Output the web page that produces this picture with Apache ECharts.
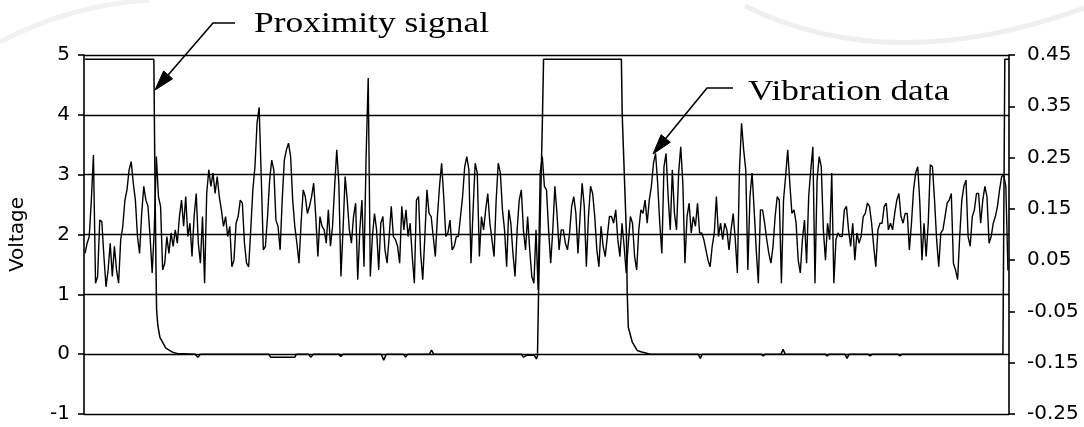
<!DOCTYPE html>
<html><head><meta charset="utf-8">
<script src="https://cdn.jsdelivr.net/npm/echarts@6/dist/echarts.min.js"></script>
<style>html,body{margin:0;padding:0;background:#fff}#c{width:1084px;height:427px}</style>
</head><body><div id="c"></div>
<script>
// Left axis (Voltage) range and right axis (vibration) range
const leftAxis = { min: -1, max: 5, interval: 1 };
const rightAxis = { min: -0.25, max: 0.45, interval: 0.1 };

// Vibration data (right axis units), consecutive samples, split into segments
const vibA = [0.063,0.083,0.096,0.167,0.255,0.005,0.018,0.128,0.125,0.057,
-0.002,0.031,0.083,0.018,0.077,0.031,0.005,0.090,0.116,0.167,
0.187,0.226,0.242,0.200,0.167,0.096,0.063,0.141,0.194,0.167,
0.155,0.096,0.025,0.109,0.252,0.174,0.155,0.031,0.044,0.096,
0.063,0.103,0.077,0.109,0.083,0.135,0.167,0.116,0.174,0.096,
0.122,0.057,0.135,0.180,0.083,0.044,0.135,0.005,0.180,0.226,
0.194,0.220,0.180,0.213,0.174,0.148,0.116,0.135,0.096,0.116,
0.037,0.050,0.122,0.135,0.167];
const vibB = [0.161,0.083,0.044,0.037,0.109,0.187,0.232,0.317,
0.348,0.213,0.070,0.077,0.135,0.206,0.245,0.226,0.128,
0.116,0.070,0.167,0.245,0.265,0.278,0.252,0.167,0.116,
0.083,0.044,0.122,0.187,0.174,0.141,0.155,0.174,0.200,0.135,
0.057,0.135,0.116,0.109,0.083,0.148,
0.077,0.116,0.194,0.265,0.200,0.018,0.109,0.213,0.167,0.109,
0.083,0.135,0.161,0.012,0.109,0.167,0.037,0.252,
0.405,0.018,0.096,0.141,0.109,0.031,0.122,0.135,
0.070,0.044,0.096,0.155,0.096];
const vibC = [0.090,0.077,0.044,0.155,0.109,0.148,0.096,0.122,0.057,
0.005,0.167,0.174,0.063,0.012,0.096,0.187,0.141,0.135,0.096,
0.057,0.135,0.194,0.239,0.174,0.096,0.103,0.128,0.070,
0.077,0.096,0.096,0.135,0.174,0.232,0.252,0.226,
0.044,0.148,0.239,0.220,0.057,0.135,0.109,0.148,0.180,
0.122,0.090,0.057,0.167,0.239,0.220,0.148,0.109,0.037,
0.148,0.122,0.063,0.018,0.109,0.167,0.187,0.109,0.070,
0.135,0.070,0.018,0.005,0.109,-0.008,0.220,
0.252,0.194,0.187,0.109,0.044];
const vibD = [0.109,0.194,0.141,0.070,0.109,0.109,0.083,0.070,0.103,0.155,
0.174,0.141,0.063,0.135,0.200,0.155,0.037,0.135,0.194,0.180,
0.135,0.070,0.037,0.116,0.077,0.057,0.096,0.135,0.135,0.122,
0.148,0.090,0.057,0.122,0.077,0.025,0.083,0.135,0.122,0.057,
0.031,0.109,0.148,0.141,0.167,0.122,0.167,0.194,0.239,0.258,
0.200,0.122,0.063,0.232,0.258,0.174,0.109,0.226,0.141,0.109,
0.220,0.271,0.200,0.044,0.135,0.161,0.103,0.135,0.116,0.161,
0.103,0.103,0.090,0.070,0.050];
const vibE = [0.037,0.077,0.103,0.174,0.096,0.122,0.090,0.122,0.109,0.070,
0.109,0.141,0.090,0.025,0.226,0.317,0.265,0.226,0.031,0.174,
0.220,0.148,0.070,0.005,0.148,0.148,0.122,0.090,0.063,0.044,
0.077,0.135,0.174,0.167,0.005,0.167,0.213,0.265,0.200,0.141,
0.148,0.122,0.050,0.025,0.090,0.128,0.044,0.174,0.226,0.271,
0.005,0.206,0.252,0.232,0.109,0.050,0.122,0.090,0.220,0.005,
0.090,0.103,0.096,0.096,0.148,0.155,0.109,0.077,0.122,0.050,
0.103,0.083,0.096,0.135,0.141];
const vibF = [0.161,0.155,0.122,0.077,0.037,0.109,0.122,0.122,0.155,0.161,
0.109,0.122,0.109,0.141,0.167,0.180,0.135,0.122,0.141,0.141,
0.070,0.122,0.187,0.220,0.232,0.161,0.050,0.122,0.057,0.122,
0.236,0.232,0.167,0.090,0.037,0.103,0.109,0.135,0.161,0.167,
0.180,0.044,0.031,0.012,0.096,0.167,0.194,0.206,0.096,0.077,
0.135,0.148,0.180,0.180,0.122,0.167,0.194,0.174,0.083,0.096,
0.122,0.135,0.155,0.187,0.213,0.216,0.194,0.030];

// Proximity signal (left axis, volts) at sample positions
const proxX = [0,32.8,33.3,33.8,34.1,34.7,35.7,38.5,41.9,44,
52.5,53.8,55,87.5,88.5,100,100.8,106.5,107.6,108.8,
121,121.9,123,141.2,142.4,143.6,151.8,152.8,153.9,164.2,
165.2,166.2,208,209,210.5,214.2,215.2,215.7,216.2,218.1,
218.6,255.7,256.1,257.1,258.1,258.5,259,260.9,263.3,265,
269.5,292.3,293.3,294.3,322.3,323.3,324.3,331.8,332.8,333.8,
352.8,353.8,354.8,362.3,363.3,364.3,373.3,374.3,375.3,387.5,
388.5,389.5,437.6,438.5,440.5];
const proxY = [4.93,4.93,3.0,1.5,0.75,0.48,0.28,0.1,0.03,0.01,
0,-0.05,0,0,-0.05,-0.05,0,0,-0.05,0,
0,-0.04,0,0,-0.1,0,0,-0.05,0,0,
0.07,0,0,-0.05,-0.02,-0.02,-0.08,-0.03,1.0,4.0,
4.93,4.93,4.0,3.0,2.0,1.0,0.45,0.2,0.06,0.04,
0,0,-0.07,0,0,-0.03,0,0,0.08,0,
0,-0.03,0,0,-0.07,0,0,-0.03,0,0,
-0.03,0,0,4.93,4.93];

const annotations = ['Proximity signal', 'Vibration data'];
const yAxisName = 'Voltage';

const vib = [].concat(vibA, vibB, vibC, vibD, vibE, vibF);
const vibData = vib.map((v, i) => [i, v]);
const proxData = proxX.map((x, i) => [x, proxY[i]]);

const chart = echarts.init(document.getElementById('c'), null, { renderer: 'canvas' });
const labelFont = { fontFamily: 'DejaVu Sans', fontSize: 20, color: '#000' };
chart.setOption({
  animation: false,
  backgroundColor: '#fff',
  grid: { left: 83, right: 75, top: 55, bottom: 13 },
  xAxis: { type: 'value', min: -0.5, max: vib.length - 0.5, show: false },
  yAxis: [
    {
      type: 'value', position: 'left', min: leftAxis.min, max: leftAxis.max, interval: leftAxis.interval,
      axisLine: { show: true, onZero: false, lineStyle: { color: '#000', width: 1.6 } },
      axisTick: { show: true, length: 6, lineStyle: { color: '#000', width: 1.6 } },
      axisLabel: Object.assign({ margin: 14 }, labelFont),
      splitLine: { show: true, lineStyle: { color: '#000', width: 1.3 } },
      name: yAxisName, nameLocation: 'middle', nameGap: 56, nameRotate: 90,
      nameTextStyle: labelFont
    },
    {
      type: 'value', position: 'right', min: rightAxis.min, max: rightAxis.max, interval: rightAxis.interval,
      axisLine: { show: true, onZero: false, lineStyle: { color: '#000', width: 1.6 } },
      axisTick: { show: true, length: 6, lineStyle: { color: '#000', width: 1.6 } },
      axisLabel: Object.assign({ margin: 18, formatter: v => v.toFixed(2) }, labelFont),
      splitLine: { show: false }
    }
  ],
  series: [
    { name: 'Vibration data', type: 'line', yAxisIndex: 1, data: vibData, showSymbol: false, symbol: 'none',
      lineStyle: { color: '#000', width: 1.4 }, z: 3 },
    { name: 'Proximity signal', type: 'line', yAxisIndex: 0, data: proxData, showSymbol: false, symbol: 'none',
      lineStyle: { color: '#000', width: 1.5 }, z: 4 }
  ],
  graphic: [
    { type: 'bezierCurve', shape: { x1: 745, y1: 6, cpx1: 890, cpy1: 78, x2: 1084, y2: 8 }, style: { stroke: '#efefef', lineWidth: 5, fill: null }, z: -1 },
    { type: 'bezierCurve', shape: { x1: 0, y1: 42, cpx1: 70, cpy1: 5, x2: 150, y2: 0 }, style: { stroke: '#f1f1f1', lineWidth: 5, fill: null }, z: -1 },
    { type: 'text', x: 254, y: 24, scaleX: 1.18, style: { x: 0, y: 0, text: annotations[0], font: '30px "Liberation Serif", "Times New Roman", serif', fill: '#000', textAlign: 'left', textVerticalAlign: 'middle' } },
    { type: 'text', x: 748, y: 92, scaleX: 1.18, style: { x: 0, y: 0, text: annotations[1], font: '30px "Liberation Serif", "Times New Roman", serif', fill: '#000', textAlign: 'left', textVerticalAlign: 'middle' } },
    { type: 'polyline', shape: { points: [[235, 23], [213, 23], [168.1, 74.9]] }, style: { stroke: '#000', lineWidth: 1.6, fill: null } },
    { type: 'polygon', shape: { points: [[155, 90], [172.6, 78.8], [163.6, 71.0]] }, style: { fill: '#000', stroke: '#000', lineWidth: 1 } },
    { type: 'polyline', shape: { points: [[733, 88], [707, 88], [665.7, 138.5]] }, style: { stroke: '#000', lineWidth: 1.6, fill: null } },
    { type: 'polygon', shape: { points: [[653, 154], [670.3, 142.3], [661.1, 134.7]] }, style: { fill: '#000', stroke: '#000', lineWidth: 1 } }
  ]
});
</script></body></html>
